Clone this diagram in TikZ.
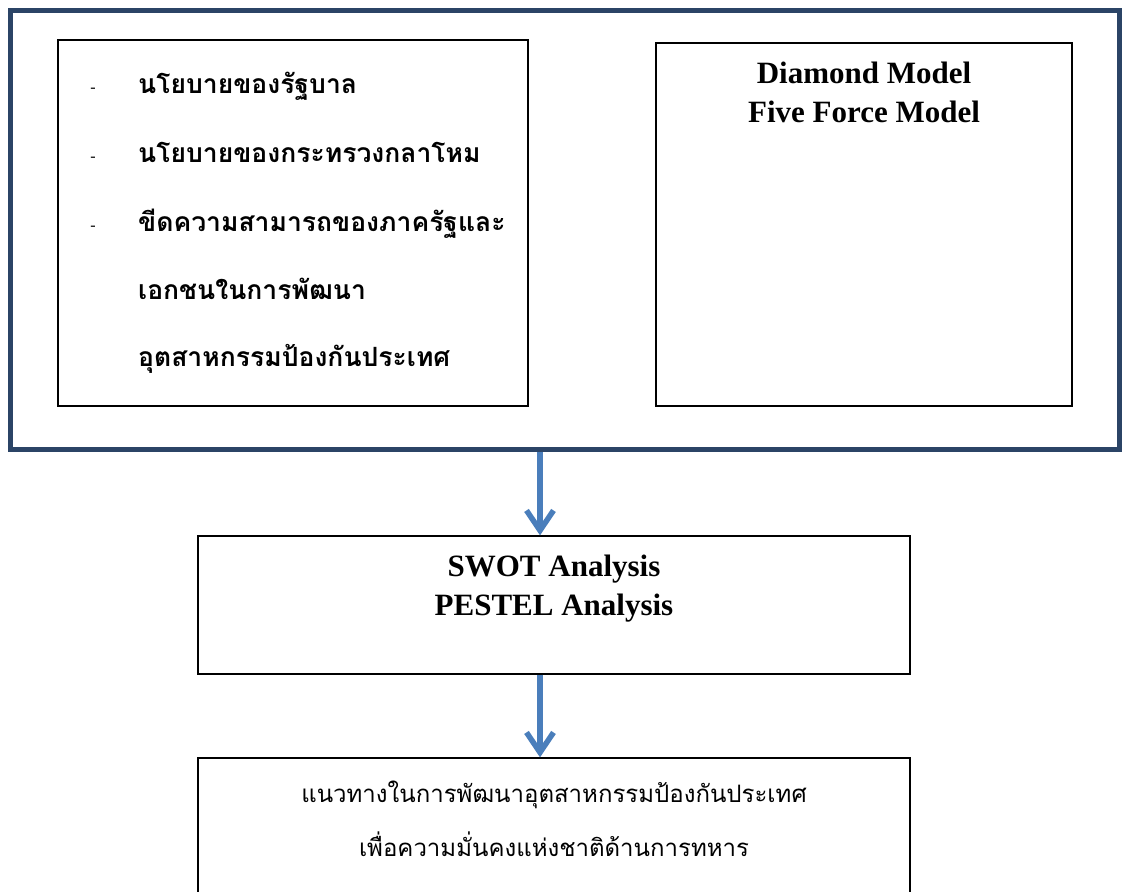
\documentclass[tikz,border=0pt]{standalone}
\usepackage{fontspec}
\setmainfont{Liberation Serif}
\newfontfamily\thaifont[Script=Thai]{Loma}
\usetikzlibrary{arrows.meta,positioning}
\definecolor{framenavy}{HTML}{2B4466}
\definecolor{flowblue}{HTML}{4A7EBB}

\begin{document}
\begin{tikzpicture}[x=1pt, y=-1pt,
    panel/.style={draw=framenavy, line width=5pt, inner sep=0pt},
    box/.style={draw, line width=1.3pt, inner sep=0pt},
    title/.style={align=center, inner sep=0pt, font=\bfseries\fontsize{31}{39}\selectfont},
    thaibold/.style={inner sep=0pt, font=\thaifont\bfseries\fontsize{26.5}{32}\selectfont},
    thaitext/.style={inner sep=0pt, font=\thaifont\fontsize{24}{30}\selectfont},
    flow/.style={flowblue, line width=5.5pt, -{Straight Barb[length=20pt, width=27pt]}}]
        \useasboundingbox (0, 0) rectangle (1123, 891);
        \clip (0, 0) rectangle (1123, 891);

        \node[panel, minimum width=1109pt, minimum height=439pt] at (564.5, 230) (panel) {};
        \node[box, minimum width=470pt, minimum height=366pt] at (293, 223) (policy) {};
        \node[box, minimum width=416pt, minimum height=363pt] at (864, 224.5) (models) {};
        \node[box, minimum width=712pt, minimum height=138pt] at (554, 605) (swot) {};
        \node[box, minimum width=712pt, minimum height=180pt] at (554, 848) (guide) {};

        % list in the left box
        \foreach \y [count=\i] in {92, 161, 230} {
            \node[anchor=base, font=\fontsize{16}{18}\selectfont, inner sep=0pt] at (93, \y) (dash\i) {-};
        }
        \node[thaibold, anchor=base west] at (138, 93) (line1) {นโยบายของรัฐบาล};
        \node[thaibold, anchor=base west] at (138, 162) (line2) {นโยบายของกระทรวงกลาโหม};
        \node[thaibold, anchor=base west] at (138, 231) (line3) {ขีดความสามารถของภาครัฐและ};
        \node[thaibold, anchor=base west] at (138, 299) (line4) {เอกชนในการพัฒนา};
        \node[thaibold, anchor=base west] at (138, 366) (line5) {อุตสาหกรรมป้องกันประเทศ};

        \node[title, below=19pt of models.north] (modelstitle) {Diamond Model\\Five Force Model};
        \node[title, below=19pt of swot.north] (swottitle) {SWOT Analysis\\PESTEL Analysis};

        \node[thaitext, anchor=base] at (554, 802) (aim1) {แนวทางในการพัฒนาอุตสาหกรรมป้องกันประเทศ};
        \node[thaitext, anchor=base] at (554, 856) (aim2) {เพื่อความมั่นคงแห่งชาติด้านการทหาร};

        \draw[flow] ([xshift=-14pt]swot.north |- panel.south) -- ([xshift=-14pt]swot.north);
        \draw[flow] ([xshift=-14pt]swot.south) -- ([xshift=-14pt]guide.north);
    \end{tikzpicture}
\end{document}
